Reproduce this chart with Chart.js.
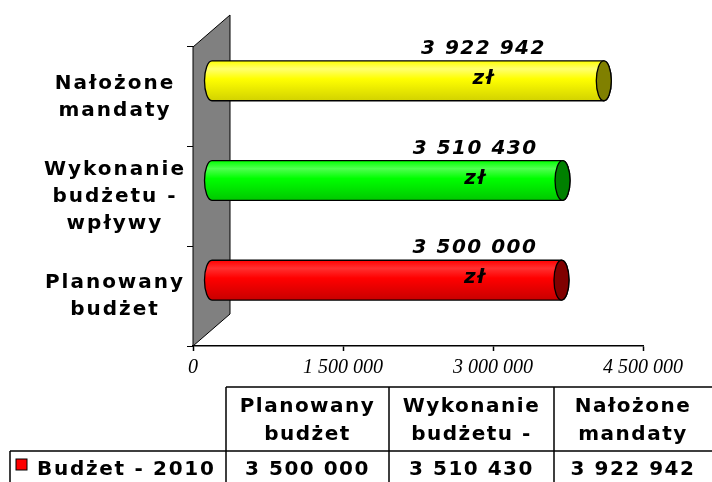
<!DOCTYPE html>
<html>
<head>
<meta charset="utf-8">
<script src="https://cdn.jsdelivr.net/npm/chart.js@4"></script>
<style>
    html, body { margin: 0; padding: 0; background: #fff; }
</style>
</head>
<body>
<canvas id="wykres" width="712" height="482"></canvas>
<script>
const kategorie = [
    ['Planowany', 'budżet'],
    ['Wykonanie', 'budżetu -', 'wpływy'],
    ['Nałożone', 'mandaty']
];
const wartosci = [3500000, 3510430, 3922942];
const nazwaSerii = 'Budżet - 2010';
const tickiOsi = [0, 1500000, 3000000, 4500000];
const jednostka = 'zł';

const koloryPodstawowe = ['#ff0000', '#00ff00', '#ffff00'];
const koloryJasne = ['#ff3030', '#50ff50', '#ffff70'];
const koloryCiemne = ['#c80000', '#00c800', '#d2d200'];
const koloryDenek = ['#800000', '#008000', '#808000'];

const FONT = '"DejaVu Sans", Verdana, sans-serif';

function formatuj(n) {
    return String(n).replace(/\B(?=(\d{3})+(?!\d))/g, ' ');
}

// glebokosc 3D sciany i przesuniecie walcow
const GLEB_X = 37, GLEB_Y = 32;

const sciana = {
    id: 'sciana',
    beforeDatasetsDraw(chart) {
        const { ctx, chartArea: a } = chart;
        ctx.save();
        ctx.beginPath();
        ctx.moveTo(a.left, a.top);
        ctx.lineTo(a.left + GLEB_X, a.top - GLEB_Y);
        ctx.lineTo(a.left + GLEB_X, a.bottom - GLEB_Y);
        ctx.lineTo(a.left, a.bottom);
        ctx.closePath();
        ctx.fillStyle = '#808080';
        ctx.fill();
        ctx.strokeStyle = '#000';
        ctx.lineWidth = 1;
        ctx.stroke();
        ctx.restore();
    }
};

const walce = {
    id: 'walce',
    afterDatasetsDraw(chart) {
        const ctx = chart.ctx;
        const meta = chart.getDatasetMeta(0);
        const dx = GLEB_X / 2, dy = -GLEB_Y / 2;
        meta.data.forEach((el, i) => {
            const p = el.getProps(['x', 'y', 'base', 'height'], true);
            const cy = p.y + dy;
            const r = p.height / 2;
            const rx = 7.5;
            const x0 = p.base + dx;
            const x1 = p.x + dx;

            const grad = ctx.createLinearGradient(0, cy - r, 0, cy + r);
            grad.addColorStop(0, koloryPodstawowe[i]);
            grad.addColorStop(0.2, koloryJasne[i]);
            grad.addColorStop(0.45, koloryPodstawowe[i]);
            grad.addColorStop(1, koloryCiemne[i]);

            ctx.save();
            ctx.beginPath();
            ctx.moveTo(x1, cy - r);
            ctx.lineTo(x0, cy - r);
            ctx.ellipse(x0, cy, rx, r, 0, -Math.PI / 2, Math.PI / 2, true);
            ctx.lineTo(x1, cy + r);
            ctx.ellipse(x1, cy, rx, r, 0, Math.PI / 2, -Math.PI / 2, true);
            ctx.closePath();
            ctx.fillStyle = grad;
            ctx.fill();
            ctx.strokeStyle = '#000';
            ctx.lineWidth = 1.3;
            ctx.stroke();

            ctx.beginPath();
            ctx.ellipse(x1, cy, rx, r, 0, 0, Math.PI * 2);
            ctx.fillStyle = koloryDenek[i];
            ctx.fill();
            ctx.stroke();
            ctx.restore();
        });
    }
};

const etykiety = {
    id: 'etykiety',
    afterDatasetsDraw(chart) {
        const ctx = chart.ctx;
        const xs = chart.scales.x;
        const meta = chart.getDatasetMeta(0);
        ctx.save();
        ctx.fillStyle = '#000';
        ctx.textAlign = 'center';
        ctx.textBaseline = 'middle';
        ctx.font = 'italic bold 20px ' + FONT;
        ctx.letterSpacing = '1.5px';
        meta.data.forEach((el, i) => {
            const lx = xs.getPixelForValue(wartosci[i] * 0.2) + 212;
            ctx.fillText(formatuj(wartosci[i]), lx, el.y - 48);
            ctx.fillText(jednostka, lx, el.y - 18);
        });

        // etykiety kategorii
        const ys = chart.scales.y;
        ctx.font = 'bold 20px ' + FONT;
        ctx.letterSpacing = '2px';
        kategorie.forEach((linie, i) => {
            const cy = ys.getPixelForValue(i);
            const lh = 27;
            linie.forEach((t, j) => {
                ctx.fillText(t, 115, cy + (j - (linie.length - 1) / 2) * lh);
            });
        });
        ctx.restore();
    }
};

const tabela = {
    id: 'tabela',
    afterDraw(chart) {
        const ctx = chart.ctx;
        const kol = [226, 389, 554, 712];
        const gora = 387, srodek = 451, dol = 482;
        ctx.save();
        ctx.strokeStyle = '#000';
        ctx.lineWidth = 1.5;
        ctx.beginPath();
        ctx.moveTo(kol[0], gora); ctx.lineTo(712, gora);
        ctx.moveTo(10, srodek); ctx.lineTo(712, srodek);
        ctx.moveTo(10, srodek); ctx.lineTo(10, dol);
        for (let k = 0; k < 3; k++) {
            ctx.moveTo(kol[k], gora); ctx.lineTo(kol[k], dol);
        }
        ctx.stroke();

        ctx.fillStyle = '#000';
        ctx.textAlign = 'center';
        ctx.textBaseline = 'middle';
        ctx.font = 'bold 20px ' + FONT;
        ctx.letterSpacing = '1.5px';
        kategorie.forEach((linie, i) => {
            const cx = (kol[i] + kol[i + 1]) / 2;
            ctx.fillText(linie[0], cx, 407);
            ctx.fillText(linie[1], cx, 435);
            ctx.fillText(formatuj(wartosci[i]), cx, 470);
        });

        ctx.textAlign = 'left';
        ctx.letterSpacing = '1.7px';
        ctx.fillText(nazwaSerii, 37, 470);

        ctx.fillStyle = koloryPodstawowe[0];
        ctx.fillRect(16, 459, 11, 11);
        ctx.lineWidth = 1;
        ctx.strokeRect(16, 459, 11, 11);
        ctx.restore();
    }
};

const ctx = document.getElementById('wykres').getContext('2d');

new Chart(ctx, {
    type: 'bar',
    data: {
        labels: kategorie,
        datasets: [{
            label: nazwaSerii,
            data: wartosci,
            backgroundColor: 'rgba(0,0,0,0)',
            borderWidth: 0,
            barPercentage: 0.4,
            categoryPercentage: 1
        }]
    },
    options: {
        indexAxis: 'y',
        responsive: false,
        animation: false,
        layout: { padding: { left: 0, right: 69, top: 47, bottom: 106 } },
        plugins: {
            legend: { display: false },
            tooltip: { enabled: false }
        },
        scales: {
            x: {
                min: 0,
                max: 4500000,
                afterBuildTicks: s => { s.ticks = tickiOsi.map(v => ({ value: v })); },
                ticks: {
                    color: '#000',
                    font: { family: '"Liberation Serif", "Times New Roman", serif', size: 20, style: 'italic' },
                    padding: 5,
                    maxRotation: 0,
                    autoSkip: false,
                    callback: v => formatuj(v)
                },
                grid: { drawOnChartArea: false, drawTicks: true, tickLength: 5, tickColor: '#000', tickWidth: 1.5 },
                border: { color: '#000', width: 1.5 },
                afterFit: s => { s.height = 30; }
            },
            y: {
                reverse: true,
                ticks: { display: false },
                grid: { drawOnChartArea: false, drawTicks: true, tickLength: 6, tickColor: '#000', offset: true },
                border: { color: '#000', width: 1 },
                afterFit: s => { s.width = 193; }
            }
        }
    },
    plugins: [sciana, walce, etykiety, tabela]
});
</script>
</body>
</html>
